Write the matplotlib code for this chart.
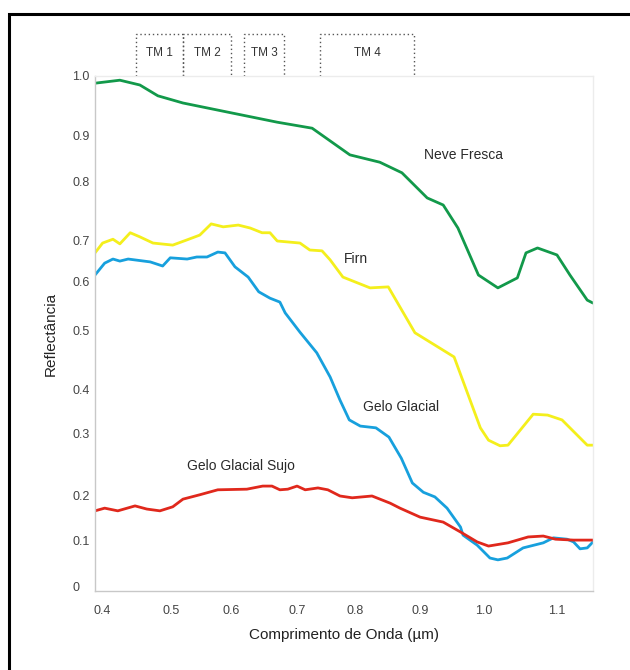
import matplotlib
matplotlib.use("Agg")
import matplotlib.pyplot as plt
from matplotlib.patches import Rectangle
import numpy as np

plt.rcParams['font.family'] = ['Liberation Sans', 'DejaVu Sans']

# reflectance curves (wavelength in um, reflectance 0-1)
neve_wl = [0.390, 0.426, 0.455, 0.481, 0.520, 0.603, 0.670, 0.726, 0.791, 0.838, 0.872, 0.911,
           0.936, 0.959, 0.991, 1.019, 1.046, 1.058, 1.074, 1.101, 1.119, 1.143, 1.151]
neve_r = [0.988, 0.993, 0.985, 0.967, 0.955, 0.938, 0.923, 0.913, 0.859, 0.843, 0.820, 0.773,
          0.761, 0.722, 0.617, 0.588, 0.610, 0.671, 0.683, 0.666, 0.617, 0.563, 0.557]

firn_wl = [0.390, 0.401, 0.416, 0.426, 0.441, 0.455, 0.474, 0.503, 0.527, 0.548, 0.567, 0.587,
           0.611, 0.629, 0.647, 0.659, 0.670, 0.705, 0.722, 0.743, 0.757, 0.779, 0.823, 0.851,
           0.892, 0.953, 0.994, 1.006, 1.022, 1.033, 1.068, 1.088, 1.108, 1.143, 1.151]
firn_r = [0.671, 0.695, 0.703, 0.693, 0.714, 0.707, 0.695, 0.690, 0.702, 0.710, 0.729, 0.724,
          0.727, 0.722, 0.714, 0.714, 0.700, 0.695, 0.678, 0.676, 0.654, 0.612, 0.588, 0.590,
          0.497, 0.456, 0.314, 0.290, 0.281, 0.282, 0.345, 0.343, 0.332, 0.282, 0.282]

gelo_wl = [0.390, 0.404, 0.416, 0.426, 0.438, 0.470, 0.488, 0.499, 0.527, 0.543, 0.560, 0.578,
           0.590, 0.606, 0.626, 0.642, 0.659, 0.674, 0.682, 0.705, 0.734, 0.757, 0.774, 0.790,
           0.808, 0.832, 0.852, 0.871, 0.888, 0.905, 0.923, 0.942, 0.963, 0.967, 0.989, 1.008,
           1.019, 1.032, 1.054, 1.082, 1.096, 1.115, 1.124, 1.133, 1.143, 1.151]
gelo_r = [0.617, 0.646, 0.656, 0.651, 0.656, 0.649, 0.639, 0.659, 0.656, 0.661, 0.661, 0.673,
          0.671, 0.637, 0.612, 0.580, 0.567, 0.559, 0.537, 0.498, 0.463, 0.422, 0.377, 0.332,
          0.318, 0.314, 0.295, 0.261, 0.221, 0.206, 0.198, 0.173, 0.131, 0.113, 0.091, 0.063,
          0.059, 0.063, 0.085, 0.096, 0.107, 0.104, 0.098, 0.083, 0.085, 0.098]

sujo_wl = [0.390, 0.404, 0.423, 0.448, 0.465, 0.484, 0.503, 0.520, 0.548, 0.578, 0.624, 0.648,
           0.662, 0.674, 0.686, 0.700, 0.714, 0.736, 0.753, 0.774, 0.795, 0.826, 0.854, 0.869,
           0.900, 0.936, 0.963, 0.989, 1.006, 1.033, 1.061, 1.082, 1.099, 1.124, 1.151]
sujo_r = [0.167, 0.173, 0.167, 0.178, 0.171, 0.167, 0.176, 0.193, 0.202, 0.210, 0.211, 0.216,
          0.216, 0.210, 0.211, 0.216, 0.210, 0.213, 0.210, 0.200, 0.196, 0.200, 0.184, 0.173,
          0.153, 0.142, 0.120, 0.098, 0.089, 0.096, 0.109, 0.111, 0.104, 0.102, 0.102]

# Landsat TM bands
tm_names = ["TM 1", "TM 2", "TM 3", "TM 4"]
tm_lo = [0.45, 0.52, 0.62, 0.74]
tm_hi = [0.52, 0.60, 0.68, 0.89]

x_ticks = [0.4, 0.5, 0.6, 0.7, 0.8, 0.9, 1.0, 1.1]
y_ticks = [0, 0.1, 0.2, 0.3, 0.4, 0.5, 0.6, 0.7, 0.8, 0.9, 1.0]
y_labels = ["0", "0.1", "0.2", "0.3", "0.4", "0.5", "0.6", "0.7", "0.8", "0.9", "1.0"]

# the original axes are unevenly spaced, piecewise scales reproduce that
xv = np.array([0.3] + x_ticks + [1.2])
xp = np.array([33, 102, 171, 231, 297, 355, 420, 484, 556, 628], float)
yv = np.array([-0.1] + y_ticks + [1.1])
yp = -np.array([633, 587, 541, 496, 434, 390, 331, 282, 241, 182, 136, 76, 16], float)

def xf(v): return np.interp(v, xv, xp)
def xi(p): return np.interp(p, xp, xv)
def yf(v): return np.interp(v, yv, yp)
def yi(p): return np.interp(p, yp, yv)

fig = plt.figure(figsize=(6.3, 6.7), dpi=100)
ax = fig.add_axes([95/630, 79/670, 498/630, 515/670])
ax.set_xscale('function', functions=(xf, xi))
ax.set_yscale('function', functions=(yf, yi))

style = dict(lw=2.0, solid_joinstyle='round', solid_capstyle='round')
ax.plot(neve_wl, neve_r, color="#12994a", **style)
ax.plot(firn_wl, firn_r, color="#f4ef1c", **style)
ax.plot(gelo_wl, gelo_r, color="#17a0dd", **style)
ax.plot(sujo_wl, sujo_r, color="#e0281c", **style)

ax.set_xlim(0.390, 1.151)
ax.set_ylim(-0.0087, 1.0)
ax.set_xticks(x_ticks)
ax.set_xticklabels([f"{t:.1f}" for t in x_ticks])
ax.set_yticks(y_ticks)
ax.set_yticklabels(y_labels)
ax.minorticks_off()
ax.tick_params(axis='both', length=0, labelsize=9, labelcolor="#444444")
ax.tick_params(axis='x', pad=10)
ax.tick_params(axis='y', pad=16.5)
for lab in ax.get_yticklabels():
    lab.set_horizontalalignment('left')

for side in ['left', 'bottom']:
    ax.spines[side].set_color("#c8c8c8")
for side in ['top', 'right']:
    ax.spines[side].set_color("#ececec")
for sp in ax.spines.values():
    sp.set_linewidth(1.0)

txt = dict(fontsize=10, color="#2a2a2a", ha='center', va='center')
ax.text(0.967, 0.859, "Neve Fresca", **txt)
ax.text(0.802, 0.656, "Firn", **txt)
ax.text(0.870, 0.361, "Gelo Glacial", **txt)
ax.text(0.615, 0.248, "Gelo Glacial Sujo", **txt)

ax.set_xlabel("Comprimento de Onda (µm)", fontsize=11, color="#222222", labelpad=8)
ax.set_ylabel("Reflectância", fontsize=11, color="#222222", labelpad=10)

# dotted band boxes above the plot
trans = ax.get_xaxis_transform()
box_top = (591 - 34) / 515
for name, lo, hi in zip(tm_names, tm_lo, tm_hi):
    ax.plot([lo, lo, hi, hi], [1.0, box_top, box_top, 1.0], transform=trans,
            color="#555555", lw=1.0, ls=(0, (1, 2)), clip_on=False)
    ax.text(xi((xf(lo) + xf(hi)) / 2), (591 - 53) / 515, name, transform=trans,
            fontsize=8.5, color="#333333", ha='center', va='center')

# black frame around the figure
fig.patches.append(Rectangle((9/630, -0.1), 1.2, (670 - 14)/670 + 0.1, transform=fig.transFigure,
                             fill=False, edgecolor="black", lw=2.2, clip_on=False))

fig.savefig("out.png", dpi=100)
